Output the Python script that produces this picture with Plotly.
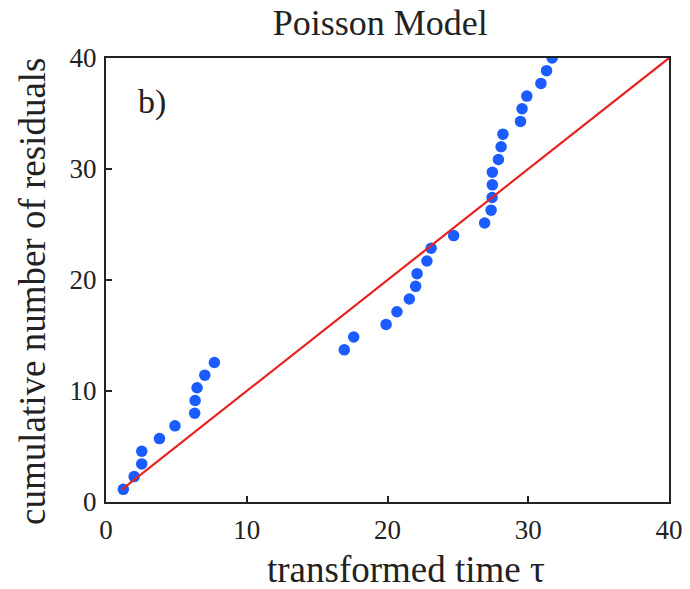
import plotly.graph_objects as go

tau = [1.23, 2.0, 2.54, 2.54, 3.8, 4.9, 6.3, 6.33, 6.47, 7.02, 7.7,
       16.93, 17.6, 19.9, 20.67, 21.55, 22.0, 22.1, 22.8, 23.1, 24.7, 26.9,
       27.36, 27.43, 27.45, 27.45, 27.88, 28.07, 28.2, 29.45, 29.56, 29.9,
       30.9, 31.3, 31.7]
cum = [1.14, 2.29, 3.43, 4.57, 5.71, 6.86, 8.0, 9.14, 10.29, 11.43, 12.57,
       13.71, 14.86, 16.0, 17.14, 18.29, 19.43, 20.57, 21.71, 22.86, 24.0, 25.14,
       26.29, 27.43, 28.57, 29.71, 30.86, 32.0, 33.14, 34.29, 35.43, 36.57,
       37.71, 38.86, 40.0]
line_x = [1.14, 40]
line_y = [1.14, 40]
ticks = [0, 10, 20, 30, 40]

FONT = "Liberation Serif, Times New Roman, serif"
TXT = "#222222"

fig = go.Figure()
fig.add_trace(go.Scatter(x=tau, y=cum, mode="markers",
                         marker=dict(color="#1a5cff", size=11.5, line=dict(width=0)),
                         showlegend=False))
fig.add_trace(go.Scatter(x=line_x, y=line_y, mode="lines",
                         line=dict(color="#e8221e", width=2.2), showlegend=False))

fig.add_annotation(x=3.3, y=36, text="b)", showarrow=False, xref="x", yref="y",
                   font=dict(family=FONT, size=34, color=TXT))
fig.add_annotation(x=0.533, y=-0.153, xref="paper", yref="paper",
                   text="transformed time τ", showarrow=False,
                   xanchor="center", yanchor="middle",
                   font=dict(family=FONT, size=37, color=TXT))
fig.add_annotation(x=-0.1316, y=0.475, xref="paper", yref="paper",
                   text="cumulative number of residuals", showarrow=False,
                   textangle=-90, xanchor="center", yanchor="middle",
                   font=dict(family=FONT, size=37, color=TXT))

axis_common = dict(range=[0, 40], tickvals=ticks, ticks="inside", ticklen=6,
                   tickwidth=1.5, tickcolor="#222", showline=True, linewidth=2,
                   linecolor="#222", mirror=True, showgrid=False, zeroline=False,
                   tickfont=dict(family=FONT, size=27, color=TXT))

fig.update_layout(
    width=690, height=589,
    margin=dict(l=106, r=21, t=58, b=87, autoexpand=False),
    paper_bgcolor="white", plot_bgcolor="white",
    title=dict(text="Poisson Model", x=0.551, xanchor="center", y=0.962, yanchor="middle",
               font=dict(family=FONT, size=36, color=TXT)),
    xaxis=dict(**axis_common, ticklabelstandoff=3),
    yaxis=dict(**axis_common, ticklabelstandoff=2),
)

fig.write_html("out.html")
